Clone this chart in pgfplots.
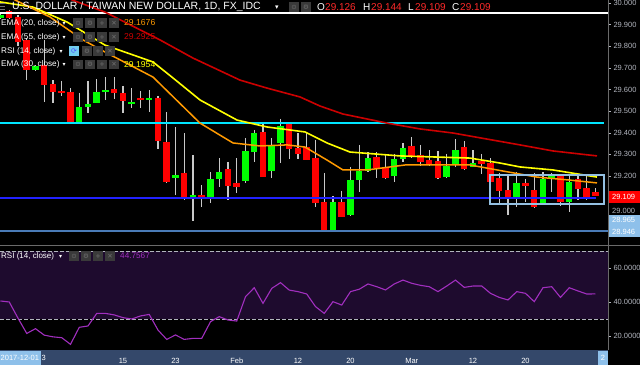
\documentclass[border=0pt]{standalone}
\usepackage{fontspec}
\setmainfont{Liberation Sans}
\newfontfamily\symfont{DejaVu Sans}
\usepackage{pgfplots}
\pgfplotsset{compat=1.18}
\usepackage{pgfplotstable}

\definecolor{wick}{HTML}{C8C8C8}
\definecolor{cred}{HTML}{FF0000}
\definecolor{cgreen}{HTML}{00FF00}
\definecolor{ema55}{HTML}{CC0000}
\definecolor{ema30}{HTML}{FFFF00}
\definecolor{ema20}{HTML}{FF9A00}
\definecolor{hcyan}{HTML}{00E5FF}
\definecolor{hblue}{HTML}{2222FF}
\definecolor{hsteel}{HTML}{4A7BB7}
\definecolor{boxc}{HTML}{94C0E2}
\definecolor{scalec}{HTML}{B2B5BE}
\definecolor{datebar}{HTML}{34486A}
\definecolor{rsiband}{HTML}{1E0B2E}
\definecolor{rsiline}{HTML}{A12FBF}
\definecolor{tagblue}{HTML}{8EC0EA}
\definecolor{iconc}{HTML}{3A3A3A}
\definecolor{iconglyph}{HTML}{707070}
\definecolor{sepc}{HTML}{6A6A6A}
\definecolor{ohlcred}{HTML}{FF2A2A}

\pgfplotstableread{
i o h l c
-14 29.930 29.950 29.925 29.945
-10 29.691 29.712 29.688 29.709
-5 29.450 29.584 29.445 29.519
-4 29.519 29.640 29.492 29.533
-3 29.538 29.649 29.538 29.589
-2 29.588 29.658 29.552 29.596
1 29.533 29.607 29.515 29.543
3 29.552 29.598 29.496 29.561
6 29.191 29.427 29.112 29.205
8 29.103 29.297 28.992 29.112
10 29.094 29.219 29.075 29.186
11 29.186 29.283 29.149 29.219
14 29.177 29.376 29.168 29.316
15 29.311 29.413 29.265 29.399
17 29.223 29.376 29.191 29.344
18 29.353 29.464 29.260 29.431
24 28.950 29.107 28.946 29.080
26 29.019 29.242 29.015 29.181
27 29.181 29.344 29.126 29.223
28 29.223 29.311 29.220 29.283
31 29.200 29.302 29.172 29.279
32 29.279 29.353 29.265 29.330
37 29.195 29.302 29.190 29.246
38 29.256 29.371 29.242 29.320
40 29.242 29.320 29.240 29.260
45 29.103 29.219 29.056 29.168
48 29.070 29.219 29.066 29.186
49 29.186 29.214 29.126 29.200
51 29.080 29.205 29.033 29.172
}\greenc

\pgfplotstableread{
i o h l c
-13 29.962 29.970 29.925 29.930
-12 29.937 29.945 29.800 29.822
-11 29.830 29.840 29.644 29.691
-9 29.714 29.830 29.543 29.621
-8 29.626 29.644 29.538 29.589
-7 29.593 29.640 29.570 29.585
-6 29.589 29.607 29.445 29.450
-1 29.603 29.658 29.556 29.584
0 29.584 29.617 29.492 29.547
2 29.561 29.594 29.515 29.552
4 29.561 29.570 29.325 29.362
5 29.357 29.496 29.168 29.172
7 29.214 29.399 29.089 29.103
9 29.112 29.158 29.056 29.094
12 29.232 29.265 29.089 29.154
13 29.168 29.283 29.121 29.149
16 29.404 29.450 29.195 29.195
19 29.441 29.445 29.279 29.325
20 29.330 29.399 29.279 29.302
21 29.334 29.399 29.274 29.274
22 29.283 29.367 29.056 29.075
23 29.080 29.214 28.946 28.950
25 29.080 29.131 29.010 29.010
29 29.288 29.311 29.191 29.237
30 29.242 29.302 29.188 29.191
33 29.339 29.381 29.285 29.288
34 29.297 29.344 29.246 29.265
35 29.274 29.320 29.246 29.256
36 29.269 29.316 29.188 29.191
39 29.334 29.362 29.230 29.232
41 29.269 29.302 29.209 29.256
42 29.260 29.283 29.170 29.172
43 29.191 29.214 29.070 29.131
44 29.135 29.205 29.019 29.103
46 29.168 29.186 29.080 29.154
47 29.135 29.214 29.054 29.056
50 29.200 29.205 29.061 29.080
52 29.186 29.205 29.089 29.140
53 29.144 29.205 29.090 29.094
54 29.126 29.144 29.109 29.109
}\redc

\pgfplotstableread{
i v
-14 40.6
-13 40.0
-12 30.5
-11 21.5
-10 24.3
-9 20.5
-8 19.5
-7 19.0
-6 15.1
-5 25.1
-4 25.9
-3 33.3
-2 33.3
-1 32.4
0 30.8
1 30.0
2 31.8
3 32.7
4 23.5
5 18.0
6 20.6
7 18.0
8 18.6
9 18.6
10 28.4
11 31.4
12 29.4
13 28.8
14 43.1
15 48.4
16 39.2
17 48.0
18 51.4
19 47.0
20 46.1
21 44.7
22 37.3
23 33.3
24 40.2
25 38.2
26 46.1
27 47.5
28 50.6
29 49.0
30 47.1
31 50.6
32 52.9
33 51.0
34 49.8
35 49.0
36 46.1
37 49.4
38 52.9
39 48.6
40 49.4
41 49.4
42 45.1
43 42.7
44 41.2
45 46.1
46 45.1
47 40.2
48 48.4
49 49.0
50 42.7
51 48.4
52 46.5
53 44.7
54 44.76
}\rsidata

\newcommand{\iconsym}[3]{\fill[iconc] (#1-4.8,#2-4.8) rectangle (#1+4.8,#2+4.8);
  \node[text=iconglyph, inner sep=0, font=\symfont\fontsize{6.5}{6.5}\selectfont] at (#1,#2) {#3};}

\begin{document}
\begin{tikzpicture}[x=1pt,y=1pt]
\useasboundingbox (0,0) rectangle (640,365);
\fill[black] (0,0) rectangle (640,365);
\fill[datebar] (0,0) rectangle (608,15);

% ---------------- price panel ----------------
\begin{axis}[at={(0pt,120pt)}, anchor=south west, scale only axis,
  width=608pt, height=245pt,
  xmin=-14.057, xmax=55.43, ymin=28.8806, ymax=30.0148,
  axis x line=none, axis y line*=right,
  y axis line style={draw=sepc, line width=0.8pt},
  ytick={29.2,29.3,29.4,29.5,29.6,29.7,29.8,29.9,30.0},
  yticklabels={29.200,29.300,29.400,29.500,29.600,29.700,29.800,29.900,30.000},
  ytick style={draw=scalec, line width=0.6pt},
  major tick length=3pt, tick align=outside,
  yticklabel style={font=\fontsize{7.5}{8}\selectfont, text=scalec, anchor=west, xshift=-1pt},
  clip=true]
% wicks
\addplot[draw=none, mark=none, forget plot, error bars/.cd, y dir=minus, y explicit,
  error mark=none, error bar style={draw=wick, line width=1.1pt}]
  table[x=i, y=h, y error minus expr=\thisrow{h}-\thisrow{l}] \greenc;
\addplot[draw=none, mark=none, forget plot, error bars/.cd, y dir=minus, y explicit,
  error mark=none, error bar style={draw=wick, line width=1.1pt}]
  table[x=i, y=h, y error minus expr=\thisrow{h}-\thisrow{l}] \redc;
% bodies
\addplot[draw=none, mark=none, forget plot, error bars/.cd, y dir=minus, y explicit,
  error mark=none, error bar style={draw=cgreen, line width=6.5pt}]
  table[x=i, y=c, y error minus expr=\thisrow{c}-\thisrow{o}] \greenc;
\addplot[draw=none, mark=none, forget plot, error bars/.cd, y dir=minus, y explicit,
  error mark=none, error bar style={draw=cred, line width=6.5pt}]
  table[x=i, y=o, y error minus expr=\thisrow{o}-\thisrow{c}] \redc;
% horizontal drawings
\addplot[white, line width=1.7pt] coordinates {(-14.1,29.956) (55.43,29.956)};
\addplot[hcyan, line width=1.7pt] coordinates {(-14.1,29.444) (54.97,29.444)};
\addplot[hblue, line width=2pt] coordinates {(-14.1,29.100) (54.1,29.100)};
\addplot[hsteel, line width=1.3pt] coordinates {(-14.1,28.946) (55.43,28.946)};
% EMA lines
\addplot[ema55, line width=1.6pt] coordinates {
(-9.49,30.107) (-5.83,30.015) (-2.06,29.959) (4.23,29.830) (8.0,29.746)
(13.37,29.644) (16.46,29.607) (20.23,29.566) (22.51,29.524) (25.14,29.487)
(30.17,29.445) (33.94,29.418) (37.71,29.399) (41.60,29.371) (45.37,29.344)
(49.14,29.316) (54.17,29.293)};
\addplot[ema30, line width=1.6pt] coordinates {
(-14.06,30.006) (-10.29,29.982) (-6.4,29.913) (-2.06,29.806) (3.43,29.728)
(5.71,29.654) (8.8,29.552) (13.03,29.459) (16.46,29.427) (20.8,29.404)
(23.31,29.353) (25.94,29.311) (31.66,29.293) (39.66,29.283) (43.09,29.260)
(45.37,29.242) (49.14,29.228) (54.17,29.195)};
\addplot[ema20, line width=1.5pt] coordinates {
(-14.06,30.052) (-12.34,30.015) (-8.34,29.936) (-4.57,29.830) (-2.06,29.774)
(3.43,29.658) (8.8,29.445) (12.57,29.353) (15.66,29.339) (18.74,29.344)
(20.8,29.334) (23.31,29.274) (25.14,29.228) (27.89,29.228) (32.23,29.251)
(39.66,29.251) (43.43,29.223) (47.31,29.195) (51.09,29.181) (54.17,29.168)};
% range box
\draw[boxc, line width=1.5pt] (axis cs:41.94,29.070) rectangle (axis cs:54.97,29.205);
\end{axis}

% ---------------- RSI panel ----------------
\begin{axis}[at={(0pt,15pt)}, anchor=south west, scale only axis,
  width=608pt, height=105pt,
  xmin=-14.057, xmax=55.43, ymin=11.76, ymax=73.53,
  axis x line*=bottom, axis y line*=right,
  x axis line style={draw=none},
  y axis line style={draw=sepc, line width=0.8pt},
  xtick={0,6,13,20,26,33,40,46},
  xticklabels={15,23,Feb,12,20,Mar,12,20},
  xtick style={draw=none},
  xticklabel style={font=\fontsize{7.5}{8}\selectfont, text=white, anchor=base, yshift=-10pt},
  ytick={20,40,60},
  yticklabels={20.0000,40.0000,60.0000},
  ytick style={draw=scalec, line width=0.6pt},
  major tick length=3pt, tick align=outside,
  yticklabel style={font=\fontsize{7.5}{8}\selectfont, text=scalec, anchor=west, xshift=-1pt},
  clip=true]
\fill[rsiband] (axis cs:-14.057,30) rectangle (axis cs:55.43,70);
\draw[scalec, line width=0.8pt, dash pattern=on 3.5pt off 2.5pt] (axis cs:-14.057,70) -- (axis cs:55.43,70);
\draw[scalec, line width=0.8pt, dash pattern=on 3.5pt off 2.5pt] (axis cs:-14.057,30) -- (axis cs:55.43,30);
\addplot[rsiline, line width=1.1pt] table[x=i, y=v] \rsidata;
\end{axis}

% separators
\draw[sepc, line width=0.8pt] (0,120) -- (640,120);
\draw[sepc, line width=0.8pt] (608,15) -- (608,365);

% date bar highlight boxes
\fill[tagblue] (0,0.5) rectangle (41,14.5);
\node[anchor=west, inner sep=0, text=white, font=\fontsize{7.5}{8}\selectfont] at (0.5,7.5) {2017-12-01};
\node[anchor=west, inner sep=0, text=white, font=\fontsize{7.5}{8}\selectfont] at (41.5,7.5) {3};
\fill[tagblue] (598,0.5) rectangle (608,14.5);
\node[anchor=center, inner sep=0, text=white, font=\fontsize{7.5}{8}\selectfont] at (603,7.5) {2};

% price axis extra labels
\node[anchor=west, inner sep=0, text=scalec, font=\fontsize{7.5}{8}\selectfont] at (612,154) {29.000};
\fill[cred] (609,162.5) rectangle (640,174.5);
\node[anchor=west, inner sep=0, text=white, font=\fontsize{7.5}{8}\selectfont] at (612,168.5) {29.109};
\fill[tagblue] (609,139.5) rectangle (640,150.5);
\node[anchor=west, inner sep=0, text=white, font=\fontsize{7.5}{8}\selectfont] at (612,145) {28.965};
\fill[tagblue] (609,128) rectangle (640,139);
\node[anchor=west, inner sep=0, text=white, font=\fontsize{7.5}{8}\selectfont] at (612,133.5) {28.946};

% header: title and OHLC
\fill[iconglyph] (0,355) rectangle (5,356.3);
\fill[iconglyph] (0,358) rectangle (5,359.3);
\fill[iconglyph] (0,361) rectangle (5,362.3);
\node[anchor=west, inner sep=0, text=white, font=\fontsize{10.5}{12}\selectfont] at (12,358) {U.S. DOLLAR / TAIWAN NEW DOLLAR, 1D, FX\_IDC};
\node[anchor=west, inner sep=0, text=white, font=\symfont\fontsize{7}{7}\selectfont] at (275,357.5) {▾};
\iconsym{294}{358}{⊙}
\iconsym{306}{358}{⚙}
\node[anchor=west, inner sep=0, text=white, font=\fontsize{10}{12}\selectfont] at (317,358) {O};
\node[anchor=west, inner sep=0, text=ohlcred, font=\fontsize{10}{12}\selectfont] at (325,358) {29.126};
\node[anchor=west, inner sep=0, text=white, font=\fontsize{10}{12}\selectfont] at (363,358) {H};
\node[anchor=west, inner sep=0, text=ohlcred, font=\fontsize{10}{12}\selectfont] at (371,358) {29.144};
\node[anchor=west, inner sep=0, text=white, font=\fontsize{10}{12}\selectfont] at (408,358) {L};
\node[anchor=west, inner sep=0, text=ohlcred, font=\fontsize{10}{12}\selectfont] at (415,358) {29.109};
\node[anchor=west, inner sep=0, text=white, font=\fontsize{10}{12}\selectfont] at (452,358) {C};
\node[anchor=west, inner sep=0, text=ohlcred, font=\fontsize{10}{12}\selectfont] at (460,358) {29.109};

% indicator legend rows
\foreach \yy/\lab in {342/{EMA (20, close)}, 328/{EMA (55, close)}, 300.5/{EMA (30, close)}}{
  \node[anchor=west, inner sep=0, text=white, font=\fontsize{8.2}{10}\selectfont] at (1,\yy) {\lab};
  \node[anchor=west, inner sep=0, text=white, font=\symfont\fontsize{6}{6}\selectfont] at (62.5,\yy-0.5) {▾};
  \iconsym{78}{\yy}{⊙}
  \iconsym{90}{\yy}{⚙}
  \iconsym{102}{\yy}{+}
  \iconsym{114}{\yy}{✕}
}
\node[anchor=west, inner sep=0, text=ema20, font=\fontsize{8.6}{10}\selectfont] at (124,342) {29.1676};
\node[anchor=west, inner sep=0, text=ema55, font=\fontsize{8.6}{10}\selectfont] at (124,328) {29.2925};
\node[anchor=west, inner sep=0, text=ema30, font=\fontsize{8.6}{10}\selectfont] at (124,300.5) {29.1954};
\node[anchor=west, inner sep=0, text=white, font=\fontsize{8.2}{10}\selectfont] at (1,314) {RSI (14, close)};
\node[anchor=west, inner sep=0, text=white, font=\symfont\fontsize{6}{6}\selectfont] at (59.5,313.5) {▾};
\fill[tagblue!80!cyan] (69,309) rectangle (79,319);
\node[text=blue!70!white, inner sep=0, font=\symfont\fontsize{7}{7}\selectfont] at (74,314) {⟳};
\iconsym{87}{314}{⚙}
\iconsym{98}{314}{+}
\iconsym{110}{314}{✕}

% RSI legend
\node[anchor=west, inner sep=0, text=white, font=\fontsize{8}{10}\selectfont] at (1,109) {RSI (14, close)};
\node[anchor=west, inner sep=0, text=white, font=\symfont\fontsize{6}{6}\selectfont] at (59,108.5) {▾};
\iconsym{74}{109}{⊙}
\iconsym{86}{109}{⚙}
\iconsym{98}{109}{+}
\iconsym{110}{109}{✕}
\node[anchor=west, inner sep=0, text=rsiline, font=\fontsize{8.2}{10}\selectfont] at (120,109) {44.7567};
\end{tikzpicture}
\end{document}
